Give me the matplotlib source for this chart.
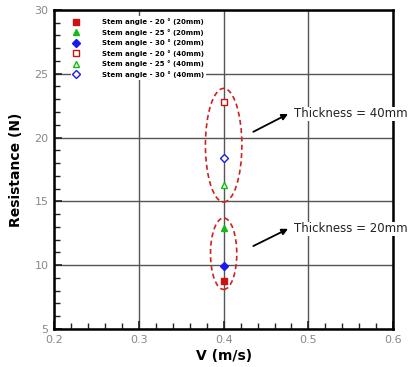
import matplotlib.pyplot as plt
from matplotlib.patches import Ellipse
from matplotlib.ticker import MultipleLocator

# stem angle cases at a towing speed of 0.4 m/s
speed = 0.4
labels = ['Stem angle - 20 ° (20mm)', 'Stem angle - 25 ° (20mm)', 'Stem angle - 30 ° (20mm)',
          'Stem angle - 20 ° (40mm)', 'Stem angle - 25 ° (40mm)', 'Stem angle - 30 ° (40mm)']
resistance = [8.8, 12.9, 9.9, 22.8, 16.3, 18.4]
colors = ['#cc1111', '#11bb11', '#1a1aee', '#cc1111', '#11bb11', '#1a1aee']
markers = ['s', '^', 'D', 's', '^', 'D']
filled = [True, True, True, False, False, False]

fig = plt.figure(figsize=(4.13, 3.67), dpi=100)
ax = fig.add_axes([0.131, 0.1035, 0.821, 0.8695])

ax.set_xlim(0.2, 0.6)
ax.set_ylim(5, 30)
ax.set_xticks([0.2, 0.3, 0.4, 0.5, 0.6])
ax.set_xticklabels(['0.2', '0.3', '0.4', '0.5', '0.6'])
ax.xaxis.set_minor_locator(MultipleLocator(0.02))
ax.yaxis.set_major_locator(MultipleLocator(5))
ax.yaxis.set_minor_locator(MultipleLocator(1))
ax.tick_params(which='both', direction='in', colors='#222222', labelcolor='#888888',
               labelsize=8, top=False, right=False)
ax.tick_params(which='major', length=6, width=1.2)
ax.tick_params(which='minor', length=4, width=1.0)
ax.tick_params(axis='y', pad=4)
ax.tick_params(axis='x', pad=4)
for side in ['left', 'bottom', 'right', 'top']:
    ax.spines[side].set_linewidth(1.8)
ax.grid(which='major', color='#555555', linewidth=1.0)
ax.set_axisbelow(True)

for lab, r, c, m, f in zip(labels, resistance, colors, markers, filled):
    size = 4.5 if m != '^' else 5
    ax.plot(speed, r, linestyle='none', marker=m, markersize=size,
            markerfacecolor=c if f else 'white', markeredgecolor=c,
            markeredgewidth=1.0, label=lab, zorder=4)

leg = ax.legend(loc='upper left', bbox_to_anchor=(0.045, 0.985), frameon=True,
                facecolor='white', edgecolor='none', framealpha=1.0, fancybox=False,
                prop={'size': 5, 'weight': 'bold'}, handletextpad=3.2,
                labelspacing=0.52, borderaxespad=0.2, borderpad=0.3, handlelength=1.0)
leg.set_zorder(5)

# dashed envelopes around each thickness group
ax.add_patch(Ellipse((0.4, 19.4), 0.043, 8.9, fill=False, edgecolor='#cc2222',
                     linestyle=(0, (3, 2)), linewidth=1.2, zorder=3))
ax.add_patch(Ellipse((0.4, 10.9), 0.031, 5.6, fill=False, edgecolor='#cc2222',
                     linestyle=(0, (3, 2)), linewidth=1.2, zorder=3))

for y_head, y_tail, text in [(21.85, 20.45, 'Thickness = 40mm'), (12.85, 11.5, 'Thickness = 20mm')]:
    ax.annotate('', xy=(0.476, y_head), xytext=(0.435, y_tail),
                arrowprops=dict(arrowstyle='-|>', color='black', lw=1.3, mutation_scale=9,
                                shrinkA=0, shrinkB=0))
    ax.text(0.483, y_head, text, fontsize=8.5, color='#222222', va='center', ha='left',
            bbox=dict(facecolor='white', edgecolor='none', pad=0.5), zorder=6, clip_on=False)

ax.set_xlabel('V (m/s)', fontsize=10, fontweight='bold', labelpad=3)
ax.set_ylabel('Resistance (N)', fontsize=10, fontweight='bold', labelpad=8)

fig.savefig('out.png', dpi=100)
